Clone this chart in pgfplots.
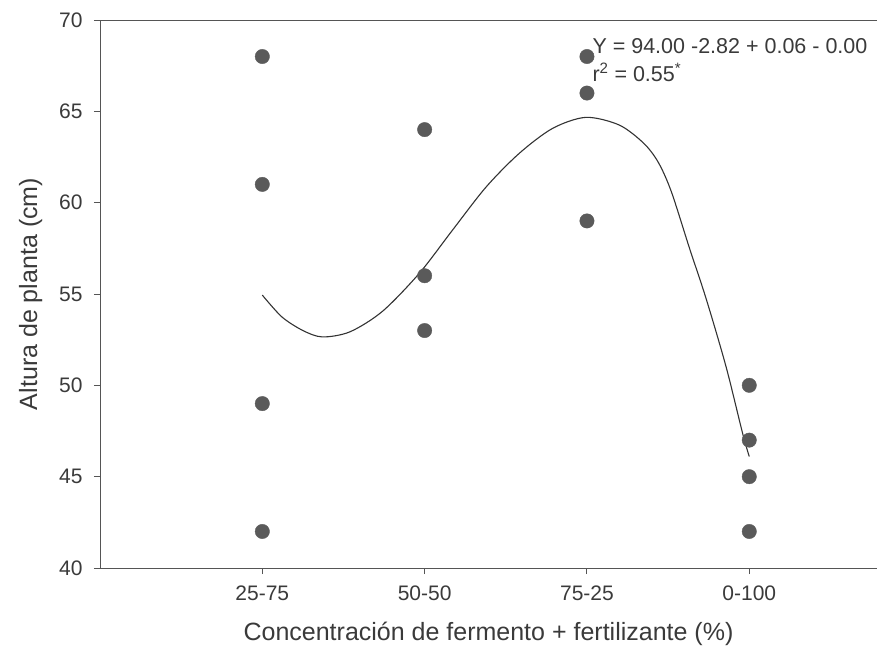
\documentclass[border=0pt]{standalone}
\usepackage{pgfplots}
\pgfplotsset{compat=1.18}
\usepackage{fontspec}
\setmainfont{Liberation Sans}
\definecolor{txt}{HTML}{3A3A3A}
\definecolor{axc}{HTML}{555555}
\definecolor{dotc}{HTML}{5A5A5A}
\begin{document}
\begin{tikzpicture}
\useasboundingbox (-100pt,-79pt) rectangle (777pt,568pt);
\begin{axis}[
  at={(0pt,0pt)}, anchor=south west,
  scale only axis, width=777pt, height=548pt,
  xmin=0, xmax=4.787, ymin=40, ymax=70,
  axis x line=box, axis y line=left,
  axis line style={axc, line width=0.9pt},
  y axis line style={-},
  xtick pos=left,
  tick align=outside,
  major tick length=6pt,
  tick style={axc, line width=0.9pt},
  xtick={1,2,3,4},
  xticklabels={25-75,50-50,75-25,0-100},
  ytick={40,45,50,55,60,65,70},
  /pgf/number format/assume math mode=true,
  ticklabel style={font=\fontsize{21}{25}\selectfont, text=txt},
  xticklabel style={anchor=base, yshift=-26pt},
  yticklabel style={anchor=east, xshift=-8pt},
  every axis x label/.style={at={(axis description cs:0.5,-0.1314)}, anchor=base},
  every axis y label/.style={at={(axis description cs:-0.081,0.5)}, rotate=90, anchor=base},
  label style={font=\fontsize{25}{30}\selectfont, text=txt},
  xlabel={Concentración de fermento + fertilizante (\%)},
  ylabel={Altura de planta (cm)},
  clip=false,
]
\addplot[only marks, mark=*, mark size=7.2pt, color=dotc] coordinates {
  (1,68) (1,61) (1,49) (1,42)
  (2,64) (2,56) (2,53)
  (3,68) (3,66) (3,59)
  (4,50) (4,47) (4,45) (4,42)
};
\addplot[smooth, line width=1.1pt, color=black!80] coordinates {
  (1.00,54.94) (1.12,53.75) (1.25,53.0) (1.37,52.65) (1.54,52.93)
  (1.74,54.05) (1.967,56.13) (2.172,58.5) (2.378,60.85) (2.583,62.70)
  (2.789,64.07) (2.994,64.67) (3.199,64.25) (3.35,63.25) (3.44,62.2)
  (3.52,60.6) (3.632,57.5) (3.734,54.75) (3.857,51.02) (3.959,47.37) (4.00,46.1)
};
\node[anchor=base west, font=\fontsize{21.5}{25}\selectfont, text=txt, inner sep=0pt]
  at (axis cs:3.033,68.19) {Y = 94.00 -2.82 + 0.06 - 0.00};
\node[anchor=base west, font=\fontsize{21.5}{25}\selectfont, text=txt, inner sep=0pt]
  at (axis cs:3.033,66.66) {r\textsuperscript{2} = 0.55\textsuperscript{*}};
\end{axis}
\end{tikzpicture}
\end{document}
